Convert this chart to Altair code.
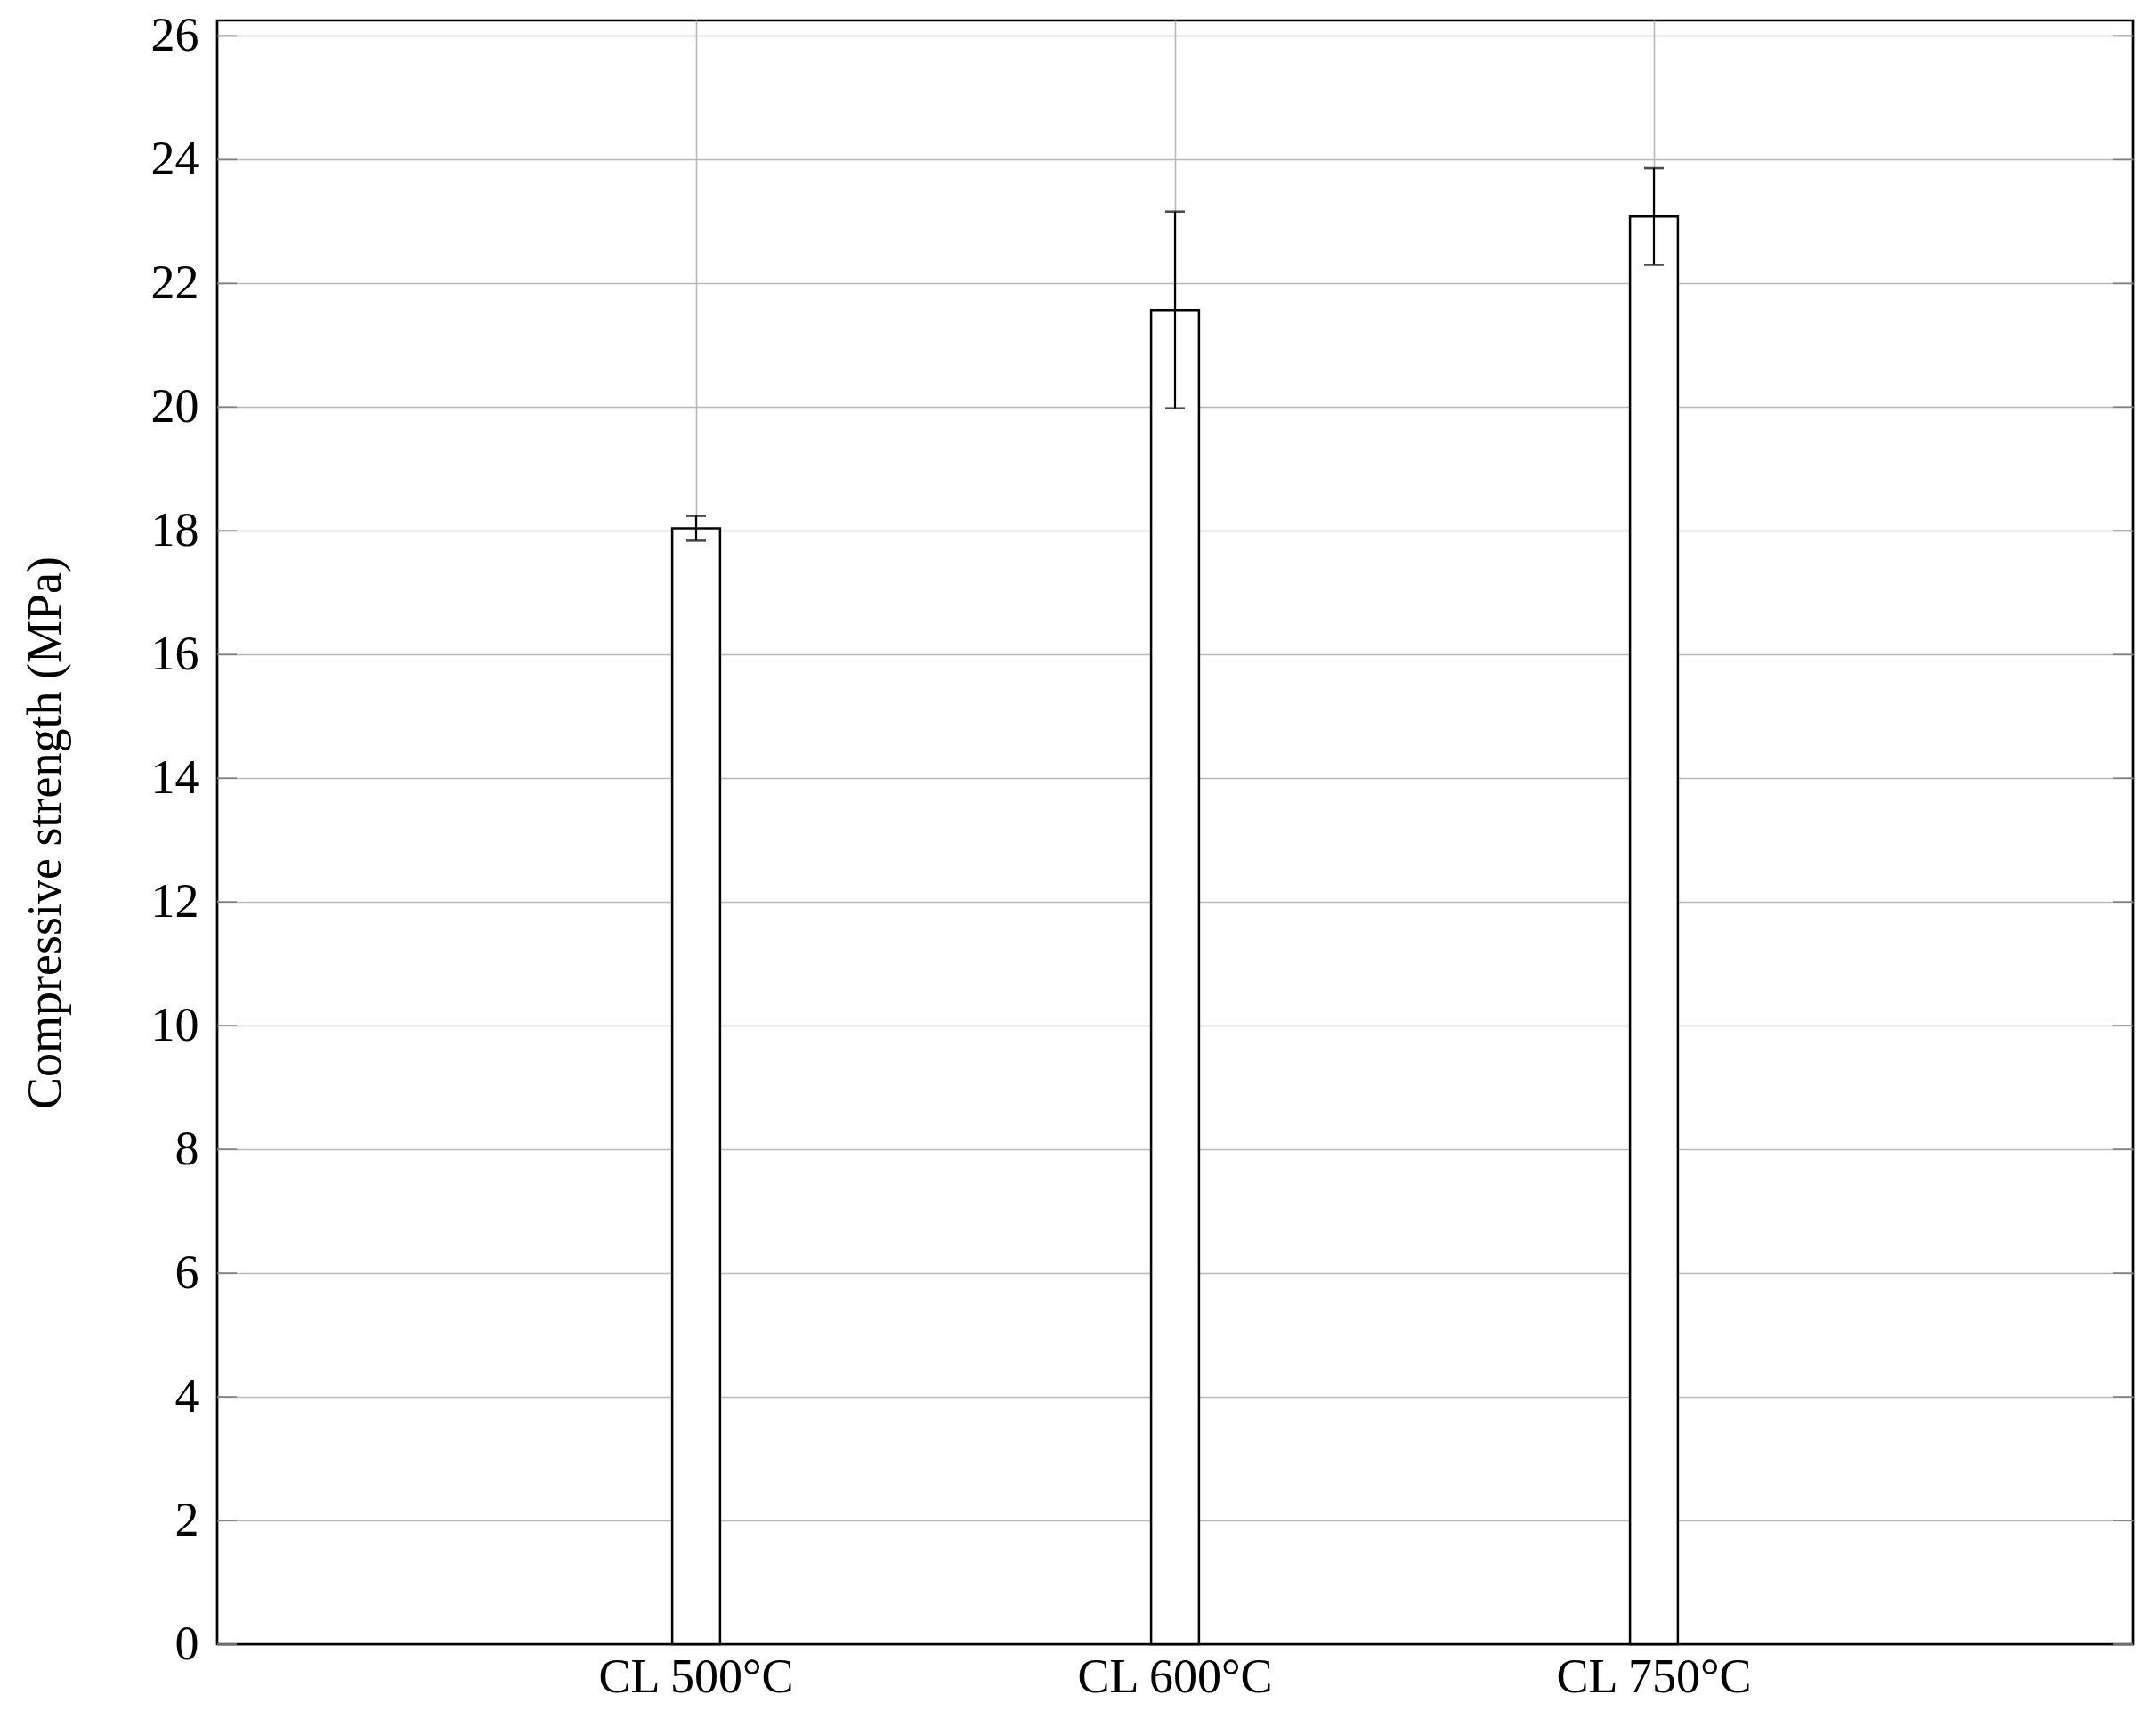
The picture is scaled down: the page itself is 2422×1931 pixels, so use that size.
import altair as alt
import pandas as pd

# values
categories = ["CL 500°C", "CL 600°C", "CL 750°C"]
strength = [18.04, 21.57, 23.08]
std_dev = [0.20, 1.59, 0.78]
y_ticks = [0, 2, 4, 6, 8, 10, 12, 14, 16, 18, 20, 22, 24, 26]

W, H = 2152, 1824
FONT = "Liberation Serif"
GRID = "#b8b8b8"

df = pd.DataFrame({"label": categories, "strength": strength, "err": std_dev})
df["lo"] = df["strength"] - df["err"]
df["hi"] = df["strength"] + df["err"]
ticks_df = pd.DataFrame({"v": y_ticks})

y_scale = alt.Scale(domain=[0, 26.25], nice=False, zero=True)
x_enc = alt.X(
    "label:N",
    sort=categories,
    scale=alt.Scale(paddingInner=0.9, paddingOuter=0.95),
    axis=alt.Axis(
        title=None, ticks=False, domain=False, labelAngle=0, labelLimit=0,
        labelFont=FONT, labelFontSize=54, labelColor="black", labelPadding=10,
        grid=True, gridColor=GRID, gridWidth=1.6, bandPosition=0.5,
    ),
)

base = alt.Chart(df)

bars = base.mark_bar(fill="white", stroke="black", strokeWidth=2.5).encode(
    x=x_enc,
    y=alt.Y(
        "strength:Q",
        scale=y_scale,
        axis=alt.Axis(
            title="Compressive strength (MPa)", values=y_ticks, format="d",
            ticks=False, domain=False, labelFont=FONT, labelFontSize=54,
            labelColor="black", labelPadding=21, titleFont=FONT,
            titleFontSize=54, titleFontWeight="normal", titleColor="black",
            titleX=-193, titleBaseline="middle",
            grid=True, gridWidth=1.7,
            gridColor={"condition": {"test": "datum.value === 0", "value": "black"},
                       "value": GRID},
        ),
    ),
)

err_line = base.mark_rule(color="black", strokeWidth=2.2).encode(
    x=alt.X("label:N", sort=categories), y="lo:Q", y2="hi:Q"
)
cap_lo = base.mark_tick(color="black", thickness=2.6, size=22).encode(
    x=alt.X("label:N", sort=categories), y="lo:Q"
)
cap_hi = base.mark_tick(color="black", thickness=2.6, size=22).encode(
    x=alt.X("label:N", sort=categories), y="hi:Q"
)

tick_l = alt.Chart(ticks_df).mark_rule(color="#808080", strokeWidth=1.7).encode(
    y="v:Q", x=alt.value(0), x2=alt.value(22)
)
tick_r = alt.Chart(ticks_df).mark_rule(color="#808080", strokeWidth=1.7).encode(
    y="v:Q", x=alt.value(W - 22), x2=alt.value(W)
)

chart = alt.layer(bars, err_line, cap_lo, cap_hi, tick_l, tick_r).properties(
    width=W, height=H,
    background="white",
    autosize=alt.AutoSizeParams(type="none"),
    padding={"left": 236, "top": 15, "right": 18, "bottom": 76},
).configure_view(
    stroke="black", strokeWidth=2.7
)

chart.save("out.html", embed_options={"renderer": "svg", "actions": False})
